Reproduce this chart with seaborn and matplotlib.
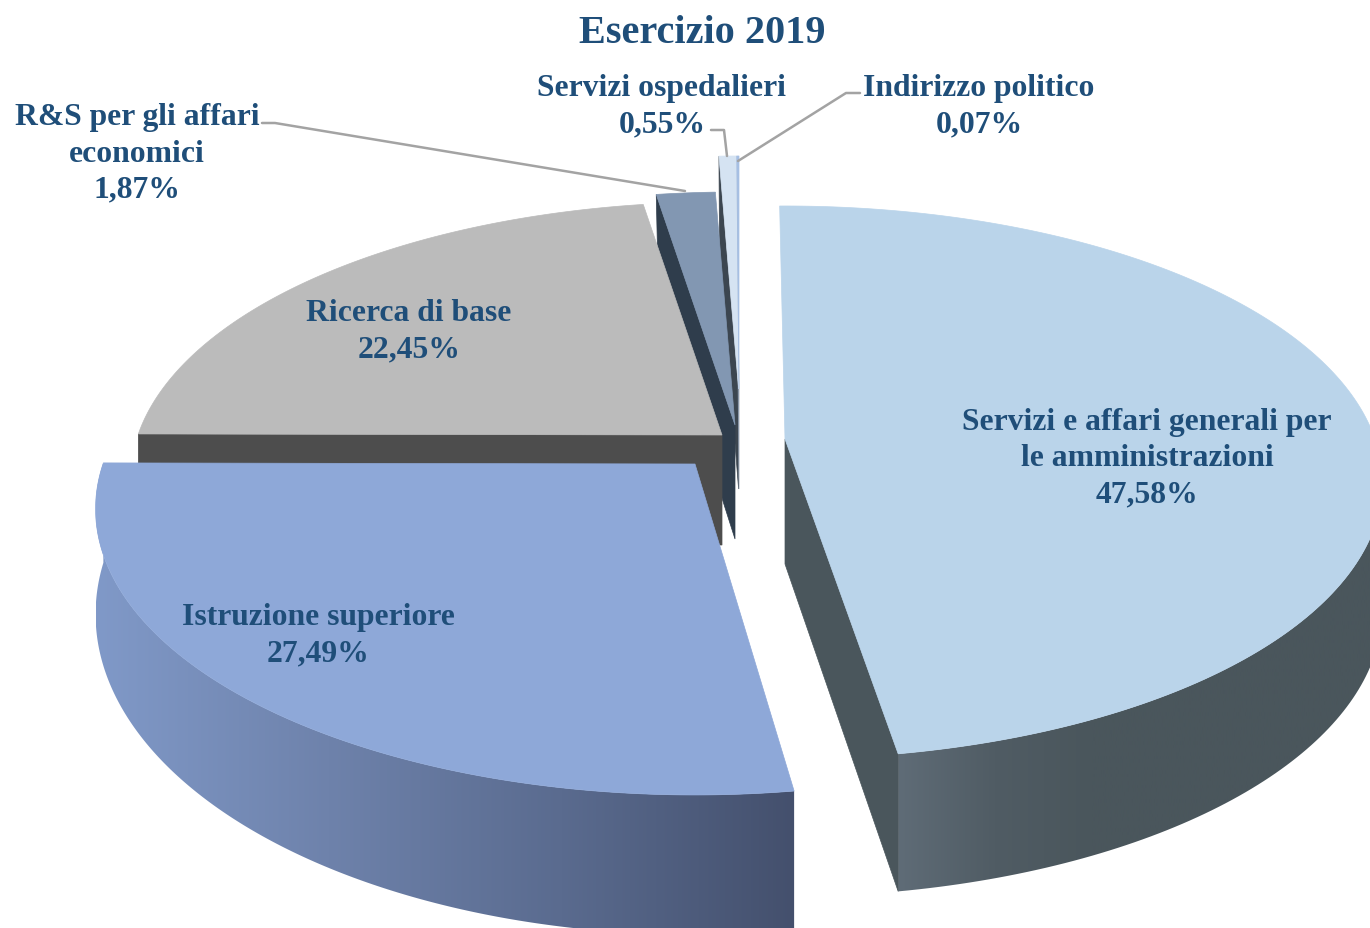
import numpy as np
import seaborn as sns
import matplotlib
matplotlib.use('Agg')
import matplotlib.pyplot as plt
from matplotlib.patches import Polygon

# values of the slices, clockwise from the top
labels = ['Servizi e affari generali per\nle amministrazioni', 'Istruzione superiore', 'Ricerca di base',
          'R&S per gli affari\neconomici', 'Servizi ospedalieri', 'Indirizzo politico']
values = [47.58, 27.49, 22.45, 1.87, 0.55, 0.07]
value_labels = ['47,58%', '27,49%', '22,45%', '1,87%', '0,55%', '0,07%']
top_colors = ['#bad4ea', '#8ea8d8', '#bbbbbb', '#8297b2', '#d5e3f2', '#a6bfe3']
wall_colors = ['#4a565c', '#44506d', '#4d4d4d', '#2f3d4c', '#3c4650', '#8a97a8']

# where each exploded slice has its tip, in pixels
tip_x = [785, 695, 722, 735, 738.6, 739]
tip_y = [440, 465, 436, 426, 390, 390]
depth = [125, 100, 110, 114, 100, 100]
radius_x = [590, 592, 584, 584, 584, 584]
radius_y = [269.6, 279, 269.6, 269.6, 269.6, 269.6]
bottom_x = [1.0, 1.0, 1.0, 0.97, 0.97, 0.97]
bottom_y = [1.04, 1.12, 1.04, 1.04, 1.04, 1.04]
turn_start = [-0.6, 0.6, 0, 0, 0, 0]
turn_end = [-0.6, 0, 0, 0, 0, 0]

label_x = [1147, 318, 409, 137, 662, 979]
label_y = [458.5, 636, 331.5, 154, 107, 107]

sns.set_theme(style='white')
plt.rcParams['font.family'] = ['Liberation Serif', 'DejaVu Serif']
TXT = '#1f4e79'

fig = plt.figure(figsize=(13.7, 9.29), dpi=100)
ax = fig.add_axes([0, 0, 1, 1])

K = 0.157


def top_pts(i, t):
    t = np.radians(t)
    u, v = np.sin(t), np.cos(t)
    s = 1 / (1 + K * v)
    return np.column_stack([tip_x[i] + radius_x[i] * u * s, tip_y[i] - radius_y[i] * v * s])


def bottom_pts(i, t):
    t = np.radians(t)
    u, v = np.sin(t), np.cos(t)
    s = 1 / (1 + K * v)
    return np.column_stack([tip_x[i] + bottom_x[i] * radius_x[i] * u * s,
                            tip_y[i] + depth[i] - bottom_y[i] * radius_y[i] * v * s])


edges = np.concatenate([[0], np.cumsum(values)]) / sum(values) * 360
spans = [np.linspace(edges[i] + turn_start[i], edges[i + 1] + turn_end[i], 200) for i in range(len(values))]


def draw_top(i):
    pts = np.vstack([[[tip_x[i], tip_y[i]]], top_pts(i, spans[i])])
    ax.add_patch(Polygon(pts, closed=True, fc=top_colors[i], ec=top_colors[i], lw=0.5))


def draw_side(i, t):
    # flat wall below one straight edge of the slice
    a = top_pts(i, np.array([t]))[0]
    b = bottom_pts(i, np.array([t]))[0]
    pts = [[tip_x[i], tip_y[i]], a, b, [tip_x[i], tip_y[i] + depth[i]]]
    ax.add_patch(Polygon(pts, closed=True, fc=wall_colors[i], ec=wall_colors[i], lw=0.5))


def draw_outer(i, colors, from_angle):
    # curved outer wall, shaded from left to right
    t = spans[i][spans[i] >= from_angle]
    pts = np.vstack([top_pts(i, t), bottom_pts(i, t)[::-1]])
    patch = Polygon(pts, closed=True, fc='none', ec='none')
    ax.add_patch(patch)
    cmap = sns.blend_palette(colors, as_cmap=True)
    grad = np.linspace(0, 1, 256).reshape(1, -1)
    im = ax.imshow(grad, cmap=cmap, aspect='auto', interpolation='bilinear',
                   extent=[pts[:, 0].min(), pts[:, 0].max(), 929, 0])
    im.set_clip_path(patch)


# back slices first, front ones over them
draw_side(4, spans[4][0])
draw_side(5, spans[5][0])
draw_side(3, spans[3][0])
draw_side(2, spans[2][0])
draw_top(3)
draw_top(2)
draw_top(4)
draw_top(5)

draw_outer(1, ['#8099c8', '#6e82ab', '#5a6b8f', '#44506d'], 0)
draw_top(1)

draw_side(0, spans[0][-1])
draw_outer(0, ['#5f6c77', '#505c64', '#4a565c', '#4a565c', '#4a565c', '#4a565c'], 90)
draw_top(0)

# leader lines
LINE = '#a3a3a3'
ax.plot([262, 275, 685], [124, 124, 192], color=LINE, lw=1.8)
ax.plot([711, 724, 727], [131, 131, 157], color=LINE, lw=1.8)
ax.plot([860, 846, 738], [94, 94, 162], color=LINE, lw=1.8)

for i in range(len(values)):
    ax.text(label_x[i], label_y[i], labels[i] + '\n' + value_labels[i], ha='center', va='center',
            fontsize=22.8, fontweight='bold', color=TXT, linespacing=1.32)

ax.text(702, 33, 'Esercizio 2019', ha='center', va='center', fontsize=29, fontweight='bold', color=TXT)

ax.set_xlim(0, 1370)
ax.set_ylim(929, 0)
ax.axis('off')
fig.savefig('out.png', dpi=100, facecolor='white')
